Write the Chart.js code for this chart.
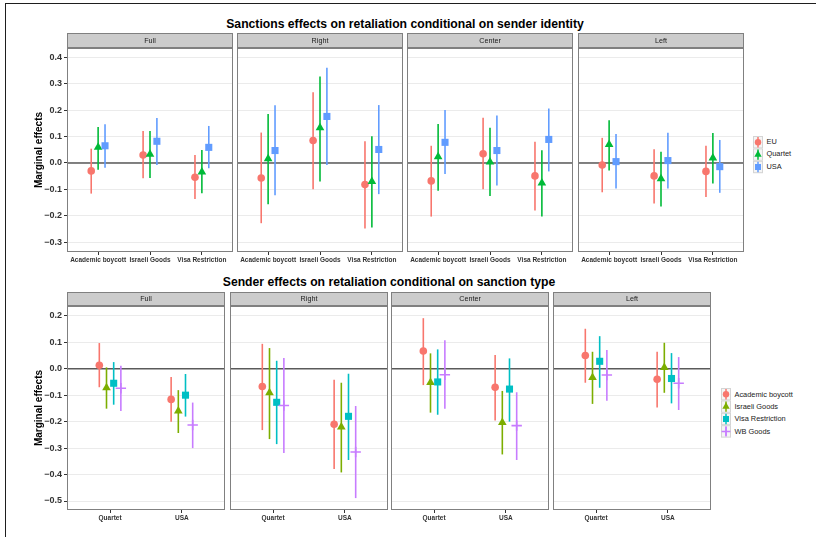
<!DOCTYPE html>
<html>
<head>
<meta charset="utf-8">
<script src="https://cdn.jsdelivr.net/npm/chart.js@4.4.1/dist/chart.umd.min.js"></script>
<style>
  html, body { margin: 0; padding: 0; background: #fff; }
  body { width: 816px; height: 537px; position: relative; overflow: hidden;
         font-family: 'Liberation Sans', Arial, Helvetica, sans-serif; }
  canvas { position: absolute; }
  .frame-top { position: absolute; left: 5px; top: 3px; right: 0; height: 1.4px; background: #1e1e1e; }
  .frame-left { position: absolute; left: 5px; top: 3px; bottom: 0; width: 1.4px; background: #1e1e1e; }
  .title { position: absolute; font-weight: bold; font-size: 12.2px; line-height: 14px;
           white-space: nowrap; transform: translateX(-50%); color: #000; }
  .leg { position: absolute; font-size: 7.4px; line-height: 10px; color: #1a1a1a; white-space: nowrap; }
</style>
</head>
<body>
<div class="frame-top"></div>
<div class="frame-left"></div>
<div class="title" style="left:405px; top:17px;">Sanctions effects on retaliation conditional on sender identity</div>
<div class="title" style="left:389px; top:275px;">Sender effects on retaliation conditional on sanction type</div>

<script>
// ---------- Facets and categories ----------
const facetNames = ['Full', 'Right', 'Center', 'Left'];
const sanctionCats = ['Academic boycott', 'Israeli Goods', 'Visa Restriction'];
const senderNames = ['EU', 'Quartet', 'USA'];
const senderCats = ['Quartet', 'USA'];
const sanctionNames = ['Academic boycott', 'Israeli Goods', 'Visa Restriction', 'WB Goods'];
const yTicksTop = [-0.3, -0.2, -0.1, 0.0, 0.1, 0.2, 0.3, 0.4];
const yTicksBottom = [-0.5, -0.4, -0.3, -0.2, -0.1, 0.0, 0.1, 0.2];

// ---------- Upper panel: sanction effects by sender (rows = facets, cols = sanction) ----------
const euEst  = [[-0.030, 0.030, -0.054], [-0.057, 0.085, -0.082], [-0.068, 0.035, -0.049], [-0.008, -0.049, -0.032]];
const euLow  = [[-0.116, -0.058, -0.136], [-0.228, -0.100, -0.248], [-0.203, -0.100, -0.180], [-0.111, -0.153, -0.129]];
const euHigh = [[0.054, 0.121, 0.030], [0.115, 0.268, 0.082], [0.065, 0.171, 0.080], [0.095, 0.052, 0.065]];

const quartetEst  = [[0.059, 0.033, -0.034], [0.016, 0.133, -0.070], [0.023, 0.004, -0.076], [0.070, -0.060, 0.019]];
const quartetLow  = [[-0.026, -0.057, -0.115], [-0.156, -0.070, -0.244], [-0.105, -0.125, -0.203], [-0.029, -0.165, -0.078]];
const quartetHigh = [[0.136, 0.121, 0.049], [0.185, 0.327, 0.101], [0.147, 0.133, 0.048], [0.162, 0.042, 0.113]];

const usaEst  = [[0.065, 0.082, 0.059], [0.047, 0.176, 0.051], [0.078, 0.047, 0.089], [0.005, 0.009, -0.014]];
const usaLow  = [[-0.018, -0.008, -0.020], [-0.122, -0.008, -0.118], [-0.042, -0.085, -0.032], [-0.097, -0.097, -0.113]];
const usaHigh = [[0.146, 0.170, 0.140], [0.218, 0.360, 0.219], [0.200, 0.180, 0.206], [0.110, 0.114, 0.087]];

// ---------- Lower panel: sender effects by sanction type (rows = facets, cols = sender) ----------
const boycottEst  = [[0.013, -0.116], [-0.067, -0.210], [0.067, -0.070], [0.050, -0.040]];
const boycottLow  = [[-0.070, -0.200], [-0.232, -0.379], [-0.062, -0.196], [-0.053, -0.147]];
const boycottHigh = [[0.097, -0.031], [0.094, -0.042], [0.191, 0.052], [0.151, 0.064]];

const goodsEst  = [[-0.072, -0.160], [-0.091, -0.220], [-0.052, -0.203], [-0.033, 0.005]];
const goodsLow  = [[-0.151, -0.243], [-0.266, -0.392], [-0.166, -0.324], [-0.133, -0.091]];
const goodsHigh = [[0.005, -0.081], [0.078, -0.053], [0.058, -0.084], [0.064, 0.098]];

const visaEst  = [[-0.055, -0.100], [-0.127, -0.180], [-0.050, -0.077], [0.028, -0.037]];
const visaLow  = [[-0.136, -0.181], [-0.285, -0.345], [-0.174, -0.200], [-0.072, -0.131]];
const visaHigh = [[0.025, -0.020], [0.030, -0.019], [0.073, 0.039], [0.123, 0.059]];

const wbEst  = [[-0.074, -0.213], [-0.139, -0.315], [-0.023, -0.215], [-0.024, -0.055]];
const wbLow  = [[-0.160, -0.300], [-0.319, -0.489], [-0.151, -0.345], [-0.121, -0.156]];
const wbHigh = [[0.011, -0.128], [0.040, -0.141], [0.108, -0.089], [0.071, 0.044]];

// ---------- Styling ----------
const FONT = "'Liberation Sans', Arial, Helvetica, sans-serif";
const topSeries = [
  { name: senderNames[0], color: '#F8766D', shape: 'circle',   radius: 3.8, est: euEst, low: euLow, high: euHigh },
  { name: senderNames[1], color: '#00BA38', shape: 'triangle', radius: 5.0, est: quartetEst, low: quartetLow, high: quartetHigh },
  { name: senderNames[2], color: '#619CFF', shape: 'rect',     radius: 5.0, est: usaEst, low: usaLow, high: usaHigh }
];
const bottomSeries = [
  { name: sanctionNames[0], color: '#F8766D', shape: 'circle',   radius: 3.8, est: boycottEst, low: boycottLow, high: boycottHigh },
  { name: sanctionNames[1], color: '#7CAE00', shape: 'triangle', radius: 5.0, est: goodsEst, low: goodsLow, high: goodsHigh },
  { name: sanctionNames[2], color: '#00BFC4', shape: 'rect',     radius: 5.0, est: visaEst, low: visaLow, high: visaHigh },
  { name: sanctionNames[3], color: '#C77CFF', shape: 'cross',    radius: 5.2, est: wbEst, low: wbLow, high: wbHigh }
];

// Vertical interval lines, zero reference line, panel border and facet strip
const pointRangePlugin = {
  id: 'pointRange',
  beforeDatasetsDraw(chart) {
    const { ctx, chartArea, scales: { y } } = chart;
    ctx.save();
    const y0 = y.getPixelForValue(0);
    ctx.strokeStyle = '#5a5a5a';
    ctx.lineWidth = 1.4;
    ctx.beginPath();
    ctx.moveTo(chartArea.left, y0);
    ctx.lineTo(chartArea.right, y0);
    ctx.stroke();
    chart.data.datasets.forEach((ds, di) => {
      const meta = chart.getDatasetMeta(di);
      ctx.strokeStyle = ds.rangeColor;
      ctx.lineWidth = 1.6;
      meta.data.forEach((pt, i) => {
        const d = ds.data[i];
        ctx.beginPath();
        ctx.moveTo(pt.x, y.getPixelForValue(d.lo));
        ctx.lineTo(pt.x, y.getPixelForValue(d.hi));
        ctx.stroke();
      });
    });
    ctx.restore();
  },
  afterDraw(chart, args, opts) {
    const { ctx, chartArea: { left, top, right, bottom } } = chart;
    const sh = opts.stripHeight;
    ctx.save();
    ctx.strokeStyle = '#808080';
    ctx.lineWidth = 1;
    ctx.strokeRect(left + 0.5, top + 0.5, right - left - 1, bottom - top - 1);
    ctx.fillStyle = '#cccccc';
    ctx.fillRect(left, top - sh, right - left, sh);
    ctx.strokeRect(left + 0.5, top - sh + 0.5, right - left - 1, sh - 1);
    ctx.fillStyle = '#1a1a1a';
    ctx.font = '7.2px ' + FONT;
    ctx.textAlign = 'center';
    ctx.textBaseline = 'middle';
    ctx.fillText(opts.label, (left + right) / 2, top - sh / 2 + 0.5);
    ctx.restore();
  }
};

function fmtTick(v) {
  const s = Math.abs(v).toFixed(1);
  return v < -1e-9 ? '\u2212' + s : s;
}

function makeFacet(cfg) {
  const canvas = document.createElement('canvas');
  canvas.width = cfg.width;
  canvas.height = cfg.height;
  canvas.style.left = cfg.left + 'px';
  canvas.style.top = cfg.top + 'px';
  document.body.appendChild(canvas);

  const nS = cfg.series.length;
  const datasets = cfg.series.map((s, si) => ({
    label: s.name,
    data: s.est[cfg.facet].map((v, ci) => ({
      x: ci + 1 + cfg.dodge[si],
      y: v,
      lo: s.low[cfg.facet][ci],
      hi: s.high[cfg.facet][ci]
    })),
    order: nS - si,
    rangeColor: s.color,
    pointStyle: s.shape,
    pointRadius: s.radius,
    pointHoverRadius: s.radius,
    backgroundColor: s.color,
    borderColor: s.color,
    borderWidth: s.shape === 'cross' ? 1.6 : 0
  }));

  const first = cfg.facet === 0;
  return new Chart(canvas, {
    type: 'scatter',
    data: { datasets },
    plugins: [pointRangePlugin],
    options: {
      responsive: false,
      animation: false,
      events: [],
      devicePixelRatio: 1,
      layout: { autoPadding: false, padding: { top: cfg.stripHeight, left: 0, right: 0, bottom: 0 } },
      plugins: {
        legend: { display: false },
        tooltip: { enabled: false },
        pointRange: { stripHeight: cfg.stripHeight, label: facetNames[cfg.facet] }
      },
      scales: {
        x: {
          type: 'linear',
          min: 0.4,
          max: cfg.cats.length + 0.6,
          afterBuildTicks: s => { s.ticks = cfg.cats.map((c, i) => ({ value: i + 1 })); },
          afterFit: s => { s.height = 16; s.paddingLeft = 0; s.paddingRight = 0; },
          ticks: {
            callback: v => cfg.cats[Math.round(v) - 1] || '',
            autoSkip: false, maxRotation: 0, minRotation: 0,
            font: { family: FONT, size: 6.5, weight: 'bold' },
            color: '#333333',
            padding: 1
          },
          grid: { drawOnChartArea: false, drawTicks: true, tickLength: 3, tickColor: '#333333', tickWidth: 1 },
          border: { display: false }
        },
        y: {
          type: 'linear',
          min: cfg.yMin,
          max: cfg.yMax,
          afterBuildTicks: s => { s.ticks = cfg.yTicks.map(v => ({ value: v })); },
          afterFit: s => { s.width = first ? cfg.axisWidth : 0; s.paddingTop = 0; s.paddingBottom = 0; },
          ticks: {
            display: first,
            callback: v => fmtTick(v),
            font: { family: FONT, size: 9, weight: 'bold' },
            color: '#333333',
            padding: 2
          },
          grid: { color: '#ebebeb', lineWidth: 1, drawTicks: first, tickLength: 3, tickColor: '#333333' },
          border: { display: false },
          title: {
            display: first,
            text: 'Marginal effects',
            font: { family: FONT, size: 10, weight: 'bold' },
            color: '#000000',
            padding: { top: 5, bottom: 0 }
          }
        }
      }
    }
  });
}

// Upper panel facets
const topLefts = [67, 237, 407, 578];
topLefts.forEach((pl, f) => {
  const first = f === 0;
  makeFacet({
    facet: f, series: topSeries, cats: sanctionCats, dodge: [-0.133, 0, 0.133],
    left: first ? 28 : pl, width: first ? 166 + 39 : 166, axisWidth: 39,
    top: 33, height: 235, stripHeight: 15,
    yMin: -0.337, yMax: 0.435, yTicks: yTicksTop
  });
});

// Lower panel facets
const bottomLefts = [67, 230, 391, 553];
bottomLefts.forEach((pl, f) => {
  const first = f === 0;
  makeFacet({
    facet: f, series: bottomSeries, cats: senderCats, dodge: [-0.15, -0.05, 0.05, 0.15],
    left: first ? 28 : pl, width: first ? 158 + 39 : 158, axisWidth: 39,
    top: 292, height: 234, stripHeight: 14,
    yMin: -0.534, yMax: 0.237, yTicks: yTicksBottom
  });
});

// Legends: key boxes drawn with the Chart.js point helper, labels as text
function makeLegend(series, boxLeft, firstCenterY, step) {
  const w = 10, h = 12.4;
  const cw = 14, ch = Math.ceil(step * series.length + 4);
  const canvas = document.createElement('canvas');
  canvas.width = cw;
  canvas.height = ch;
  canvas.style.left = (boxLeft - 2) + 'px';
  canvas.style.top = (firstCenterY - h / 2 - 2) + 'px';
  document.body.appendChild(canvas);
  const ctx = canvas.getContext('2d');
  series.forEach((s, i) => {
    const cy = 2 + h / 2 + i * step;
    const cx = 2 + w / 2;
    ctx.fillStyle = '#f5f5f5';
    ctx.fillRect(2, cy - h / 2, w, h);
    ctx.strokeStyle = '#d4d4d4';
    ctx.lineWidth = 1;
    ctx.strokeRect(2.5, cy - h / 2 + 0.5, w - 1, h - 1);
    ctx.strokeStyle = s.color;
    ctx.lineWidth = 1.5;
    ctx.beginPath();
    ctx.moveTo(cx, cy - h / 2 + 1);
    ctx.lineTo(cx, cy + h / 2 - 1);
    ctx.stroke();
    ctx.fillStyle = s.color;
    ctx.strokeStyle = s.color;
    ctx.lineWidth = 1.5;
    Chart.helpers.drawPoint(ctx, {
      pointStyle: s.shape,
      radius: s.radius * 0.85,
      rotation: 0,
      borderWidth: s.shape === 'cross' ? 1.5 : 0
    }, cx, cy);

    const lab = document.createElement('div');
    lab.className = 'leg';
    lab.textContent = s.name;
    lab.style.left = (boxLeft + w + 4) + 'px';
    lab.style.top = (firstCenterY + i * step - 5) + 'px';
    document.body.appendChild(lab);
  });
}

makeLegend(topSeries, 752.5, 142, 12.4);
makeLegend(bottomSeries, 720.5, 394.5, 12.4);
</script>
</body>
</html>
